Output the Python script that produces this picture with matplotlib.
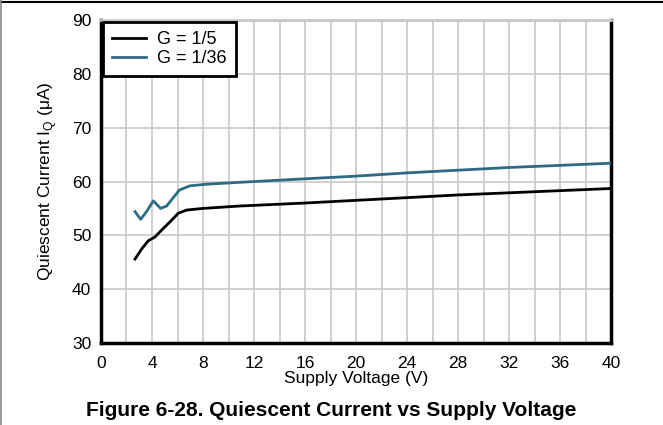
import matplotlib
matplotlib.use("Agg")
import matplotlib.pyplot as plt
from matplotlib.lines import Line2D

plt.rcParams['font.family'] = ['Liberation Sans', 'DejaVu Sans']

v_g5 = [2.67, 3.2, 3.71, 4.24, 4.76, 5.41, 6.06, 6.72, 8.0, 10.9, 16, 20, 24, 28, 32, 36, 40]
iq_g5 = [45.6, 47.5, 49.0, 49.7, 51.0, 52.5, 54.1, 54.7, 55.0, 55.45, 56.0, 56.5, 57.0, 57.5, 57.9, 58.3, 58.7]

v_g36 = [2.67, 3.11, 3.6, 4.1, 4.68, 5.15, 5.6, 6.14, 6.98, 8.29, 10.9, 16, 20, 24, 28, 32, 36, 40]
iq_g36 = [54.4, 52.97, 54.5, 56.4, 55.0, 55.45, 56.8, 58.4, 59.2, 59.5, 59.85, 60.5, 61.0, 61.6, 62.1, 62.6, 63.0, 63.4]

xticks = [0, 4, 8, 12, 16, 20, 24, 28, 32, 36, 40]
yticks = [30, 40, 50, 60, 70, 80, 90]

fig = plt.figure(figsize=(6.63, 4.25), dpi=100)
ax = fig.add_axes([101/663, 1-343/425, 510/663, 323/425])

ax.plot(v_g5, iq_g5, color='black', lw=2, label='G = 1/5', zorder=3)
ax.plot(v_g36, iq_g36, color='#2d6a85', lw=2, label='G = 1/36', zorder=3)

ax.set_xlim(0, 40)
ax.set_ylim(30, 90)
ax.set_xticks(xticks)
ax.set_yticks(yticks)
ax.set_xticks(range(0, 41, 2), minor=True)
ax.grid(True, which='both', axis='x', color='#c8c8c8', lw=1.2)
ax.grid(True, which='major', axis='y', color='#c8c8c8', lw=1.2)
ax.tick_params(which='both', length=0, labelsize=12.5)
ax.tick_params(axis='x', pad=9)
ax.tick_params(axis='y', pad=7)
for s in ['left', 'bottom', 'right']:
    ax.spines[s].set_linewidth(2.5)
    ax.spines[s].set_color('black')
ax.spines['top'].set_color('#c8c8c8')
ax.spines['top'].set_linewidth(2)

ax.set_xlabel('Supply Voltage (V)', fontsize=12.5, labelpad=0)
ax.set_ylabel(r'Quiescent Current I$_\mathregular{Q}$ (μA)', fontsize=12.5, labelpad=9)

leg = ax.legend(loc='upper left', fontsize=13, frameon=True, fancybox=False,
                edgecolor='black', borderaxespad=0.1, handlelength=1.9,
                labelspacing=0.12, borderpad=0.5, handletextpad=0.6)
leg.get_frame().set_linewidth(2)
leg.get_frame().set_alpha(1)

fig.text(0.5, 1-410/425, 'Figure 6-28. Quiescent Current vs Supply Voltage',
         ha='center', va='center', fontsize=15, fontweight='bold')

fig.add_artist(Line2D([0, 1], [1-1.5/425, 1-1.5/425], color='black', lw=1.5, transform=fig.transFigure))
fig.add_artist(Line2D([1/663, 1/663], [0, 1], color='#888888', lw=1.2, transform=fig.transFigure))

fig.savefig('out.png', dpi=100)
